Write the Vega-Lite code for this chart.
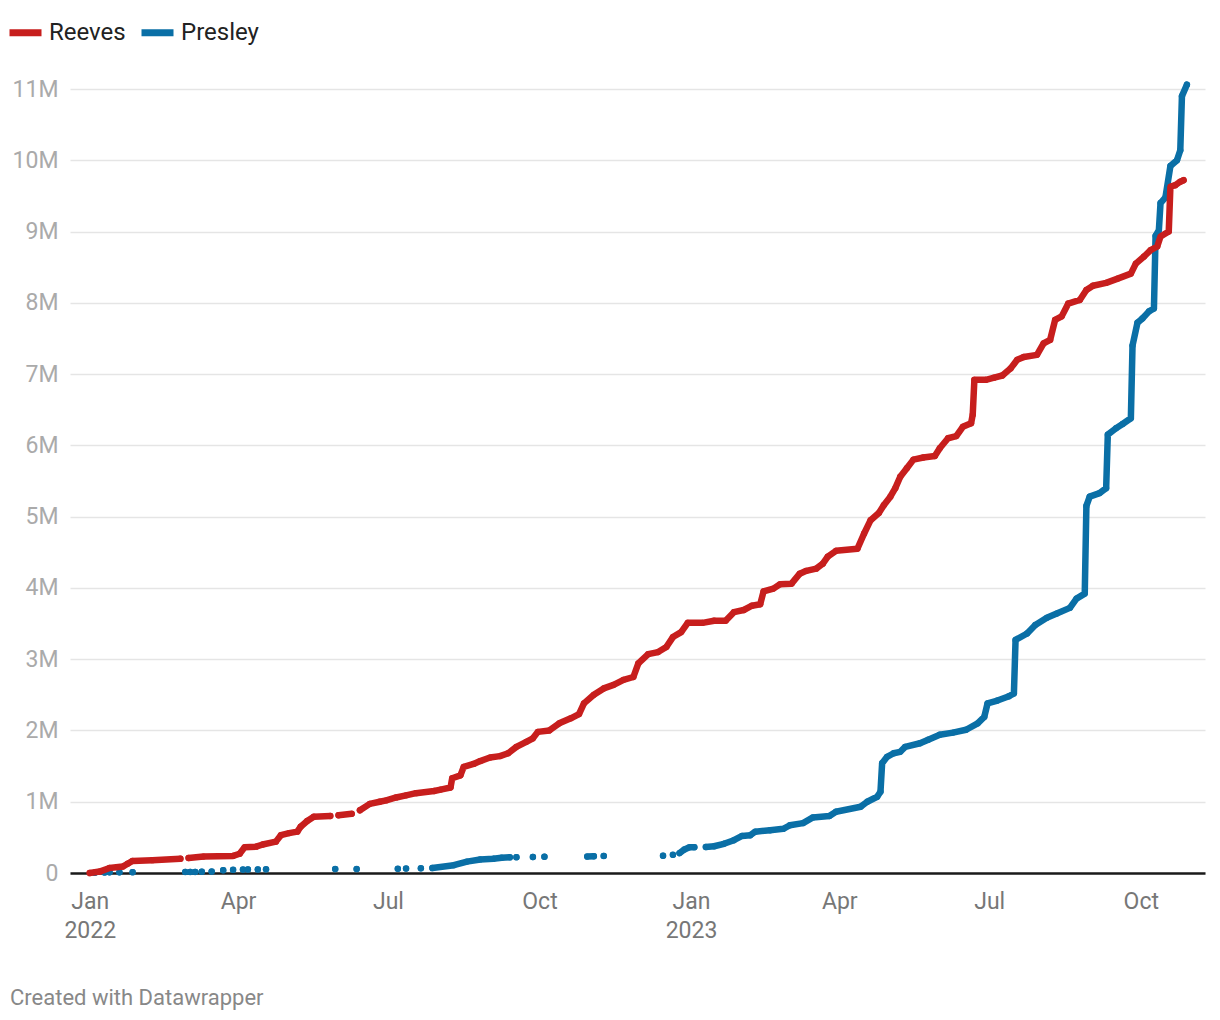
{
"$schema": "https://vega.github.io/schema/vega-lite/v6.json",
"width": 1135,
"height": 784,
"autosize": {"type": "none"},
"padding": {"left": 70, "top": 89, "right": 15, "bottom": 147},
"background": "white",
"config": {"font": "Roboto", "view": {"stroke": null}},
"title": {"text": "Created with Datawrapper", "orient": "bottom", "anchor": "start", "frame": "group", "dx": -60, "offset": 46, "fontSize": 22, "fontWeight": "normal", "color": "#888888"},
"data": {"values": [
{"date":"2022-01-04","series":"Presley","value":5000},
{"date":"2022-01-06","series":"Presley","value":null},
{"date":"2022-01-10","series":"Presley","value":8000},
{"date":"2022-01-11","series":"Presley","value":null},
{"date":"2022-01-13","series":"Presley","value":10000},
{"date":"2022-01-16","series":"Presley","value":null},
{"date":"2022-01-19","series":"Presley","value":10000},
{"date":"2022-01-23","series":"Presley","value":null},
{"date":"2022-01-27","series":"Presley","value":12000},
{"date":"2022-02-10","series":"Presley","value":null},
{"date":"2022-02-28","series":"Presley","value":15000},
{"date":"2022-03-01","series":"Presley","value":null},
{"date":"2022-03-03","series":"Presley","value":15000},
{"date":"2022-03-04","series":"Presley","value":null},
{"date":"2022-03-06","series":"Presley","value":15000},
{"date":"2022-03-08","series":"Presley","value":null},
{"date":"2022-03-10","series":"Presley","value":18000},
{"date":"2022-03-13","series":"Presley","value":null},
{"date":"2022-03-16","series":"Presley","value":20000},
{"date":"2022-03-20","series":"Presley","value":null},
{"date":"2022-03-23","series":"Presley","value":40000},
{"date":"2022-03-26","series":"Presley","value":null},
{"date":"2022-03-29","series":"Presley","value":45000},
{"date":"2022-04-01","series":"Presley","value":null},
{"date":"2022-04-04","series":"Presley","value":48000},
{"date":"2022-04-05","series":"Presley","value":null},
{"date":"2022-04-07","series":"Presley","value":50000},
{"date":"2022-04-10","series":"Presley","value":null},
{"date":"2022-04-13","series":"Presley","value":50000},
{"date":"2022-04-15","series":"Presley","value":null},
{"date":"2022-04-18","series":"Presley","value":52000},
{"date":"2022-05-01","series":"Presley","value":null},
{"date":"2022-05-30","series":"Presley","value":55000},
{"date":"2022-06-05","series":"Presley","value":null},
{"date":"2022-06-12","series":"Presley","value":55000},
{"date":"2022-06-25","series":"Presley","value":null},
{"date":"2022-07-07","series":"Presley","value":58000},
{"date":"2022-07-09","series":"Presley","value":null},
{"date":"2022-07-12","series":"Presley","value":62000},
{"date":"2022-07-16","series":"Presley","value":null},
{"date":"2022-07-21","series":"Presley","value":65000},
{"date":"2022-07-24","series":"Presley","value":null},
{"date":"2022-07-28","series":"Presley","value":70000},
{"date":"2022-08-10","series":"Presley","value":110000},
{"date":"2022-08-18","series":"Presley","value":160000},
{"date":"2022-08-26","series":"Presley","value":190000},
{"date":"2022-09-03","series":"Presley","value":200000},
{"date":"2022-09-08","series":"Presley","value":215000},
{"date":"2022-09-13","series":"Presley","value":220000},
{"date":"2022-09-15","series":"Presley","value":null},
{"date":"2022-09-17","series":"Presley","value":222000},
{"date":"2022-09-22","series":"Presley","value":null},
{"date":"2022-09-27","series":"Presley","value":225000},
{"date":"2022-10-01","series":"Presley","value":null},
{"date":"2022-10-04","series":"Presley","value":228000},
{"date":"2022-10-15","series":"Presley","value":null},
{"date":"2022-10-30","series":"Presley","value":230000},
{"date":"2022-11-03","series":"Presley","value":235000},
{"date":"2022-11-06","series":"Presley","value":null},
{"date":"2022-11-09","series":"Presley","value":240000},
{"date":"2022-11-25","series":"Presley","value":null},
{"date":"2022-12-15","series":"Presley","value":242000},
{"date":"2022-12-18","series":"Presley","value":null},
{"date":"2022-12-21","series":"Presley","value":255000},
{"date":"2022-12-23","series":"Presley","value":null},
{"date":"2022-12-25","series":"Presley","value":280000},
{"date":"2022-12-28","series":"Presley","value":330000},
{"date":"2022-12-31","series":"Presley","value":360000},
{"date":"2023-01-03","series":"Presley","value":362000},
{"date":"2023-01-07","series":"Presley","value":null},
{"date":"2023-01-10","series":"Presley","value":365000},
{"date":"2023-01-15","series":"Presley","value":375000},
{"date":"2023-01-21","series":"Presley","value":410000},
{"date":"2023-01-27","series":"Presley","value":460000},
{"date":"2023-02-01","series":"Presley","value":520000},
{"date":"2023-02-06","series":"Presley","value":530000},
{"date":"2023-02-09","series":"Presley","value":580000},
{"date":"2023-02-18","series":"Presley","value":600000},
{"date":"2023-02-26","series":"Presley","value":620000},
{"date":"2023-03-02","series":"Presley","value":670000},
{"date":"2023-03-10","series":"Presley","value":700000},
{"date":"2023-03-16","series":"Presley","value":780000},
{"date":"2023-03-26","series":"Presley","value":800000},
{"date":"2023-03-30","series":"Presley","value":860000},
{"date":"2023-04-14","series":"Presley","value":930000},
{"date":"2023-04-18","series":"Presley","value":1000000},
{"date":"2023-04-24","series":"Presley","value":1070000},
{"date":"2023-04-26","series":"Presley","value":1140000},
{"date":"2023-04-27","series":"Presley","value":1540000},
{"date":"2023-04-30","series":"Presley","value":1630000},
{"date":"2023-05-04","series":"Presley","value":1680000},
{"date":"2023-05-08","series":"Presley","value":1700000},
{"date":"2023-05-11","series":"Presley","value":1770000},
{"date":"2023-05-20","series":"Presley","value":1820000},
{"date":"2023-05-25","series":"Presley","value":1870000},
{"date":"2023-06-01","series":"Presley","value":1940000},
{"date":"2023-06-09","series":"Presley","value":1970000},
{"date":"2023-06-17","series":"Presley","value":2010000},
{"date":"2023-06-24","series":"Presley","value":2100000},
{"date":"2023-06-28","series":"Presley","value":2190000},
{"date":"2023-06-30","series":"Presley","value":2380000},
{"date":"2023-07-06","series":"Presley","value":2420000},
{"date":"2023-07-13","series":"Presley","value":2480000},
{"date":"2023-07-16","series":"Presley","value":2520000},
{"date":"2023-07-17","series":"Presley","value":3270000},
{"date":"2023-07-24","series":"Presley","value":3360000},
{"date":"2023-07-29","series":"Presley","value":3480000},
{"date":"2023-08-05","series":"Presley","value":3580000},
{"date":"2023-08-11","series":"Presley","value":3640000},
{"date":"2023-08-19","series":"Presley","value":3720000},
{"date":"2023-08-23","series":"Presley","value":3850000},
{"date":"2023-08-28","series":"Presley","value":3920000},
{"date":"2023-08-29","series":"Presley","value":5150000},
{"date":"2023-08-31","series":"Presley","value":5280000},
{"date":"2023-09-06","series":"Presley","value":5330000},
{"date":"2023-09-10","series":"Presley","value":5400000},
{"date":"2023-09-11","series":"Presley","value":6150000},
{"date":"2023-09-16","series":"Presley","value":6240000},
{"date":"2023-09-20","series":"Presley","value":6300000},
{"date":"2023-09-25","series":"Presley","value":6380000},
{"date":"2023-09-26","series":"Presley","value":7400000},
{"date":"2023-09-29","series":"Presley","value":7720000},
{"date":"2023-10-02","series":"Presley","value":7780000},
{"date":"2023-10-06","series":"Presley","value":7880000},
{"date":"2023-10-09","series":"Presley","value":7920000},
{"date":"2023-10-10","series":"Presley","value":8940000},
{"date":"2023-10-12","series":"Presley","value":9020000},
{"date":"2023-10-13","series":"Presley","value":9400000},
{"date":"2023-10-16","series":"Presley","value":9480000},
{"date":"2023-10-19","series":"Presley","value":9920000},
{"date":"2023-10-23","series":"Presley","value":10000000},
{"date":"2023-10-25","series":"Presley","value":10140000},
{"date":"2023-10-26","series":"Presley","value":10900000},
{"date":"2023-10-29","series":"Presley","value":11060000},
{"date":"2022-01-01","series":"Reeves","value":0},
{"date":"2022-01-07","series":"Reeves","value":20000},
{"date":"2022-01-13","series":"Reeves","value":70000},
{"date":"2022-01-21","series":"Reeves","value":90000},
{"date":"2022-01-24","series":"Reeves","value":130000},
{"date":"2022-01-27","series":"Reeves","value":170000},
{"date":"2022-02-08","series":"Reeves","value":180000},
{"date":"2022-02-25","series":"Reeves","value":200000},
{"date":"2022-02-27","series":"Reeves","value":null},
{"date":"2022-03-02","series":"Reeves","value":210000},
{"date":"2022-03-11","series":"Reeves","value":230000},
{"date":"2022-03-29","series":"Reeves","value":240000},
{"date":"2022-04-02","series":"Reeves","value":270000},
{"date":"2022-04-05","series":"Reeves","value":360000},
{"date":"2022-04-12","series":"Reeves","value":370000},
{"date":"2022-04-16","series":"Reeves","value":400000},
{"date":"2022-04-24","series":"Reeves","value":440000},
{"date":"2022-04-27","series":"Reeves","value":530000},
{"date":"2022-05-02","series":"Reeves","value":560000},
{"date":"2022-05-07","series":"Reeves","value":580000},
{"date":"2022-05-09","series":"Reeves","value":650000},
{"date":"2022-05-13","series":"Reeves","value":730000},
{"date":"2022-05-17","series":"Reeves","value":790000},
{"date":"2022-05-27","series":"Reeves","value":800000},
{"date":"2022-05-29","series":"Reeves","value":null},
{"date":"2022-06-01","series":"Reeves","value":810000},
{"date":"2022-06-09","series":"Reeves","value":830000},
{"date":"2022-06-11","series":"Reeves","value":null},
{"date":"2022-06-14","series":"Reeves","value":880000},
{"date":"2022-06-20","series":"Reeves","value":970000},
{"date":"2022-06-26","series":"Reeves","value":1000000},
{"date":"2022-06-30","series":"Reeves","value":1020000},
{"date":"2022-07-06","series":"Reeves","value":1060000},
{"date":"2022-07-12","series":"Reeves","value":1090000},
{"date":"2022-07-18","series":"Reeves","value":1120000},
{"date":"2022-07-29","series":"Reeves","value":1150000},
{"date":"2022-08-02","series":"Reeves","value":1170000},
{"date":"2022-08-08","series":"Reeves","value":1200000},
{"date":"2022-08-09","series":"Reeves","value":1330000},
{"date":"2022-08-14","series":"Reeves","value":1370000},
{"date":"2022-08-16","series":"Reeves","value":1490000},
{"date":"2022-08-22","series":"Reeves","value":1530000},
{"date":"2022-08-26","series":"Reeves","value":1570000},
{"date":"2022-09-01","series":"Reeves","value":1620000},
{"date":"2022-09-07","series":"Reeves","value":1640000},
{"date":"2022-09-12","series":"Reeves","value":1680000},
{"date":"2022-09-17","series":"Reeves","value":1770000},
{"date":"2022-09-23","series":"Reeves","value":1840000},
{"date":"2022-09-27","series":"Reeves","value":1890000},
{"date":"2022-09-30","series":"Reeves","value":1980000},
{"date":"2022-10-07","series":"Reeves","value":2000000},
{"date":"2022-10-13","series":"Reeves","value":2100000},
{"date":"2022-10-20","series":"Reeves","value":2170000},
{"date":"2022-10-25","series":"Reeves","value":2230000},
{"date":"2022-10-28","series":"Reeves","value":2380000},
{"date":"2022-11-03","series":"Reeves","value":2500000},
{"date":"2022-11-09","series":"Reeves","value":2590000},
{"date":"2022-11-15","series":"Reeves","value":2640000},
{"date":"2022-11-21","series":"Reeves","value":2710000},
{"date":"2022-11-27","series":"Reeves","value":2750000},
{"date":"2022-11-30","series":"Reeves","value":2940000},
{"date":"2022-12-06","series":"Reeves","value":3070000},
{"date":"2022-12-12","series":"Reeves","value":3100000},
{"date":"2022-12-17","series":"Reeves","value":3170000},
{"date":"2022-12-21","series":"Reeves","value":3310000},
{"date":"2022-12-26","series":"Reeves","value":3380000},
{"date":"2022-12-30","series":"Reeves","value":3510000},
{"date":"2023-01-08","series":"Reeves","value":3510000},
{"date":"2023-01-15","series":"Reeves","value":3540000},
{"date":"2023-01-22","series":"Reeves","value":3540000},
{"date":"2023-01-27","series":"Reeves","value":3660000},
{"date":"2023-02-02","series":"Reeves","value":3690000},
{"date":"2023-02-07","series":"Reeves","value":3750000},
{"date":"2023-02-12","series":"Reeves","value":3770000},
{"date":"2023-02-14","series":"Reeves","value":3950000},
{"date":"2023-02-20","series":"Reeves","value":3990000},
{"date":"2023-02-24","series":"Reeves","value":4050000},
{"date":"2023-03-03","series":"Reeves","value":4060000},
{"date":"2023-03-08","series":"Reeves","value":4200000},
{"date":"2023-03-12","series":"Reeves","value":4240000},
{"date":"2023-03-18","series":"Reeves","value":4270000},
{"date":"2023-03-22","series":"Reeves","value":4340000},
{"date":"2023-03-25","series":"Reeves","value":4440000},
{"date":"2023-03-30","series":"Reeves","value":4520000},
{"date":"2023-04-12","series":"Reeves","value":4550000},
{"date":"2023-04-16","series":"Reeves","value":4760000},
{"date":"2023-04-20","series":"Reeves","value":4950000},
{"date":"2023-04-25","series":"Reeves","value":5050000},
{"date":"2023-04-28","series":"Reeves","value":5160000},
{"date":"2023-05-02","series":"Reeves","value":5280000},
{"date":"2023-05-05","series":"Reeves","value":5400000},
{"date":"2023-05-08","series":"Reeves","value":5560000},
{"date":"2023-05-12","series":"Reeves","value":5680000},
{"date":"2023-05-16","series":"Reeves","value":5800000},
{"date":"2023-05-22","series":"Reeves","value":5830000},
{"date":"2023-05-29","series":"Reeves","value":5850000},
{"date":"2023-06-01","series":"Reeves","value":5960000},
{"date":"2023-06-06","series":"Reeves","value":6100000},
{"date":"2023-06-11","series":"Reeves","value":6130000},
{"date":"2023-06-15","series":"Reeves","value":6260000},
{"date":"2023-06-20","series":"Reeves","value":6310000},
{"date":"2023-06-21","series":"Reeves","value":6430000},
{"date":"2023-06-22","series":"Reeves","value":6920000},
{"date":"2023-06-29","series":"Reeves","value":6920000},
{"date":"2023-07-04","series":"Reeves","value":6950000},
{"date":"2023-07-09","series":"Reeves","value":6980000},
{"date":"2023-07-14","series":"Reeves","value":7080000},
{"date":"2023-07-18","series":"Reeves","value":7200000},
{"date":"2023-07-22","series":"Reeves","value":7240000},
{"date":"2023-07-30","series":"Reeves","value":7270000},
{"date":"2023-08-03","series":"Reeves","value":7430000},
{"date":"2023-08-07","series":"Reeves","value":7480000},
{"date":"2023-08-10","series":"Reeves","value":7760000},
{"date":"2023-08-14","series":"Reeves","value":7810000},
{"date":"2023-08-18","series":"Reeves","value":7990000},
{"date":"2023-08-25","series":"Reeves","value":8040000},
{"date":"2023-08-29","series":"Reeves","value":8180000},
{"date":"2023-09-02","series":"Reeves","value":8240000},
{"date":"2023-09-10","series":"Reeves","value":8280000},
{"date":"2023-09-17","series":"Reeves","value":8340000},
{"date":"2023-09-25","series":"Reeves","value":8410000},
{"date":"2023-09-28","series":"Reeves","value":8550000},
{"date":"2023-10-03","series":"Reeves","value":8650000},
{"date":"2023-10-07","series":"Reeves","value":8740000},
{"date":"2023-10-11","series":"Reeves","value":8790000},
{"date":"2023-10-13","series":"Reeves","value":8930000},
{"date":"2023-10-18","series":"Reeves","value":9000000},
{"date":"2023-10-19","series":"Reeves","value":9630000},
{"date":"2023-10-22","series":"Reeves","value":9650000},
{"date":"2023-10-25","series":"Reeves","value":9700000},
{"date":"2023-10-27","series":"Reeves","value":9720000}
]},
"encoding": {
  "x": {"field": "date", "type": "temporal",
    "scale": {"type": "utc", "domain": [{"year": 2021, "month": 12, "date": 20, "utc": true}, {"year": 2023, "month": 11, "date": 9, "utc": true}]},
    "axis": {"title": null,
      "values": [{"year": 2022, "month": 1, "date": 1, "utc": true}, {"year": 2022, "month": 4, "date": 1, "utc": true}, {"year": 2022, "month": 7, "date": 1, "utc": true}, {"year": 2022, "month": 10, "date": 1, "utc": true}, {"year": 2023, "month": 1, "date": 1, "utc": true}, {"year": 2023, "month": 4, "date": 1, "utc": true}, {"year": 2023, "month": 7, "date": 1, "utc": true}, {"year": 2023, "month": 10, "date": 1, "utc": true}],
      "labelExpr": "utcmonth(datum.value) === 0 ? [utcFormat(datum.value, '%b'), utcFormat(datum.value, '%Y')] : utcFormat(datum.value, '%b')",
      "ticks": false, "tickSize": 0, "grid": false, "domain": true, "domainColor": "#1a1a1a", "domainWidth": 2.5,
      "labelFontSize": 23, "labelColor": "#777777", "labelPadding": 17, "labelLineHeight": 29,
      "labelFlush": false, "labelOverlap": false, "labelBound": false, "labelBaseline": "top"}},
  "y": {"field": "value", "type": "quantitative",
    "scale": {"domain": [0, 11000000], "nice": false, "zero": true},
    "axis": {"title": null, "values": [0, 1000000, 2000000, 3000000, 4000000, 5000000, 6000000, 7000000, 8000000, 9000000, 10000000, 11000000],
      "labelExpr": "datum.value === 0 ? '0' : format(datum.value / 1000000, 'd') + 'M'",
      "ticks": false, "tickSize": 0, "domain": false, "grid": true, "gridColor": "#e5e5e5", "gridWidth": 1.5,
      "labelFontSize": 23, "labelColor": "#aaaaaa", "labelPadding": 12}},
  "color": {"field": "series", "type": "nominal",
    "scale": {"domain": ["Reeves", "Presley"], "range": ["#c71e1d", "#0a6fa6"]},
    "legend": {"title": null, "orient": "none", "legendX": -64, "legendY": -76, "direction": "horizontal",
      "symbolType": "stroke", "symbolSize": 1024, "symbolStrokeWidth": 7, "labelFontSize": 24, "labelColor": "#222222",
      "columnPadding": 1, "labelOffset": 4}}
},
"layer": [
  {"mark": {"type": "circle", "size": 40, "opacity": 1}},
  {"mark": {"type": "line", "strokeWidth": 6.5, "strokeCap": "round", "strokeJoin": "round"}}
]
}
